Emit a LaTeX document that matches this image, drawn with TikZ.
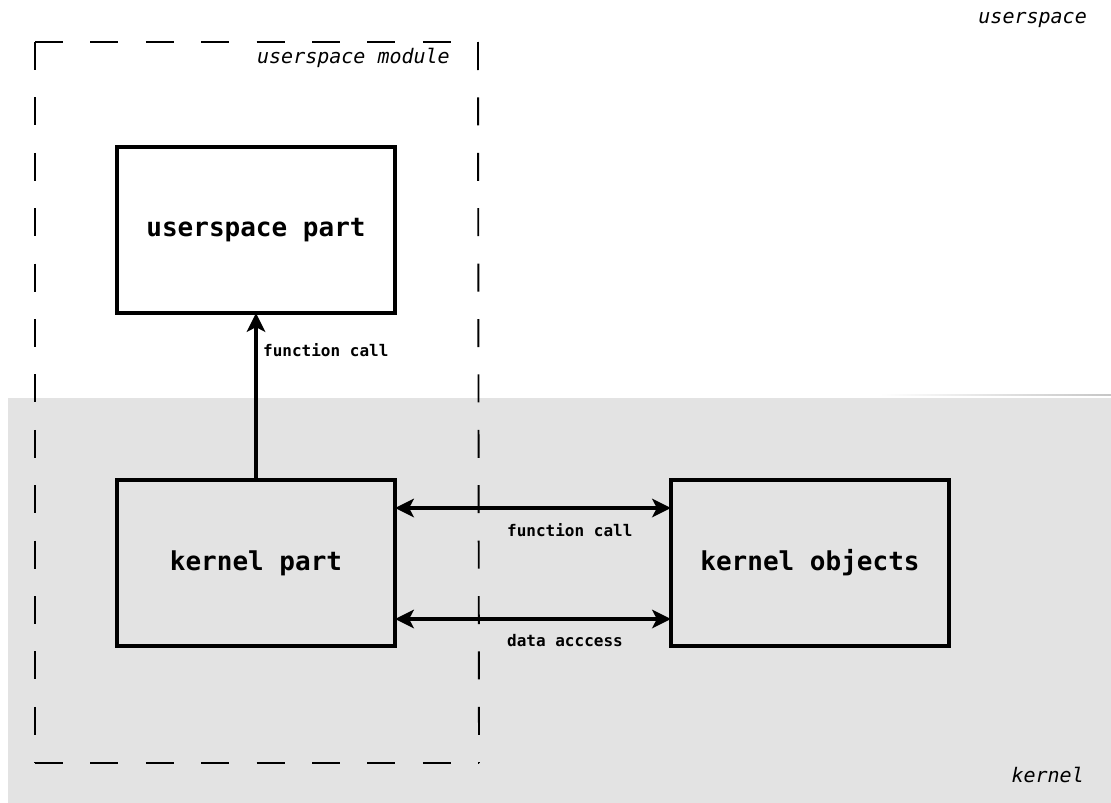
\documentclass[tikz,border=0pt]{standalone}
\usepackage{fontspec}
\setmonofont{DejaVu Sans Mono}
\definecolor{kernelgray}{RGB}{227,227,227}
\tikzset{
  part/.style={draw=black, line width=3.3pt, minimum width=278pt, minimum height=166pt,
    inner sep=0pt, font=\ttfamily\bfseries\fontsize{26}{30}\selectfont},
  shaft/.style={draw=black, line width=3.2pt},
  head/.style={fill=black},
  smalllabel/.style={font=\ttfamily\bfseries\fontsize{16}{19}\selectfont, inner sep=0pt},
  arealabel/.style={font=\ttfamily\itshape\fontsize{20}{24}\selectfont, inner sep=0pt},
  modborder/.style={line width=1.9pt, dash pattern=on 28pt off 27.4pt}
}
\begin{document}
\begin{tikzpicture}[x=1pt, y=-1pt]
  \useasboundingbox (0,0) rectangle (1111,803);

  % kernel area
  \fill[kernelgray] (8,398) rectangle (1111,803);
  \shade[left color=white, right color=gray!45] (880,394.2) rectangle (1111,395.8);

  % area labels
  \node[arealabel, anchor=east] (uslabel) at (1087,20) {userspace};
  \node[arealabel, anchor=east] (klabel) at (1084,775) {kernel};

  % userspace module frame
  \coordinate (mtl) at (35,42);
  \coordinate (mtr) at (478,42);
  \coordinate (mbl) at (35,763);
  \coordinate (mbr) at (479,763);
  \draw[modborder] (mtl) -- (mtr);
  \draw[modborder] (mtr) -- (mbr |- mbl);
  \draw[modborder] (mbl) -- (mbr);
  \draw[modborder] (mtl) -- (mbl);
  \node[arealabel, anchor=east] (modlabel) at (450,58) {userspace module};

  % parts
  \node[part, fill=white] (up) at (256,230) {userspace part};
  \node[part] (kp) at (256,563) {kernel part};
  \node[part] (ko) at (810,563) {kernel objects};

  % connector ends
  \coordinate (t1) at ([yshift=1.5pt]up.south);
  \coordinate (a1) at ([xshift=-1.5pt, yshift=55pt]kp.east);
  \coordinate (b1) at ([xshift=1.5pt, yshift=55pt]ko.west);
  \coordinate (a2) at ([xshift=-1.5pt, yshift=-56pt]kp.east);
  \coordinate (b2) at ([xshift=1.5pt, yshift=-56pt]ko.west);

  % function call upwards
  \draw[shaft, shorten >=10pt] (kp.north) -- (t1);
  \fill[head] (t1) -- ++(9.5,19) -- ++(-9.5,-5) -- ++(-9.5,5) -- cycle;
  \node[smalllabel, anchor=west] (fc1) at (263,350) {function call};

  % function call between kernel part and kernel objects
  \draw[shaft, shorten >=10pt, shorten <=10pt] (a1) -- (b1);
  \fill[head] (a1) -- ++(19,-9.5) -- ++(-5,9.5) -- ++(5,9.5) -- cycle;
  \fill[head] (b1) -- ++(-19,-9.5) -- ++(5,9.5) -- ++(-5,9.5) -- cycle;
  \node[smalllabel, anchor=west] (fc2) at (507,530) {function call};

  % data access between kernel part and kernel objects
  \draw[shaft, shorten >=10pt, shorten <=10pt] (a2) -- (b2);
  \fill[head] (a2) -- ++(19,-9.5) -- ++(-5,9.5) -- ++(5,9.5) -- cycle;
  \fill[head] (b2) -- ++(-19,-9.5) -- ++(5,9.5) -- ++(-5,9.5) -- cycle;
  \node[smalllabel, anchor=west] (da) at (507,641) {data acccess};
\end{tikzpicture}
\end{document}
